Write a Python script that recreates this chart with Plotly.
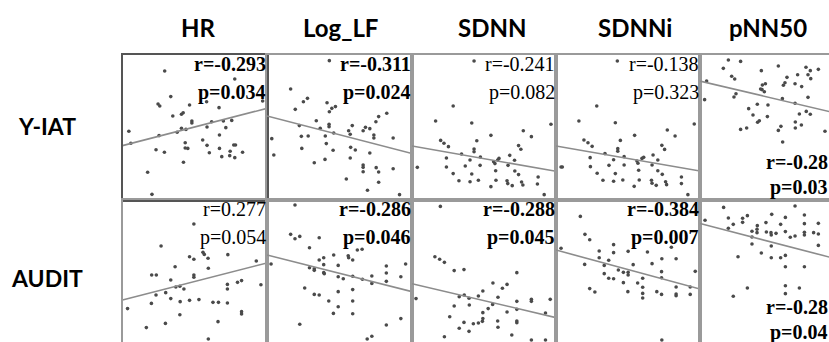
import plotly.graph_objects as go

# ---------------- data (normalised 0-100 units within each panel) ----------------
col_titles = ["HR", "Log_LF", "SDNN", "SDNNi", "pNN50"]
row_titles = ["Y-IAT", "AUDIT"]

hr_yiat_x = [29.2,77.7,58.2,33.4,24.6,25.8,46.4,66.8,97.0,34.8,40.8,42.0,48.0,48.0,61.7,69.8,75.6,4.4,40.8,43.9,37.8,58.5,71.5,25.3,5.8,67.1,43.4,55.5,58.5,77.0,78.2,23.2,29.0,43.4,45.2,67.1,60.1,74.5,83.1,68.7,74.2,77.7,42.2,17.4,20.4]
hr_yiat_y = [89.0,83.4,67.8,71.3,66.2,64.8,65.5,63.7,68.3,57.9,59.1,60.2,54.5,53.1,54.0,54.5,54.9,47.4,49.4,48.7,46.7,50.3,49.9,44.4,39.1,44.8,39.5,41.4,37.7,37.9,37.9,34.7,32.9,35.9,35.6,35.6,32.6,33.6,32.9,29.9,30.6,29.2,26.0,19.1,3.9]

loglf_yiat_x = [43.0,16.3,25.1,27.9,41.4,47.2,44.7,43.0,19.5,82.6,77.0,75.1,34.0,22.3,42.8,42.8,36.7,58.8,67.9,70.9,66.3,56.3,57.4,46.0,73.7,73.7,87.0,3.3,23.7,28.4,40.2,40.9,24.0,4.7,45.6,57.7,60.9,70.9,57.4,40.0,32.6,66.3,66.3,75.3,66.3,77.0,87.0,54.7,77.0,69.3,91.4]
loglf_yiat_y = [96.1,76.6,67.8,70.1,67.1,64.4,63.2,60.9,62.5,59.8,57.5,54.0,54.7,51.3,52.2,50.6,49.4,51.3,50.1,49.2,47.8,47.8,45.3,46.2,44.8,42.8,42.8,42.3,43.9,44.1,44.1,38.9,35.6,31.0,34.3,36.3,34.5,32.4,29.0,28.0,25.7,24.1,22.5,22.3,19.5,19.3,21.6,14.5,12.2,6.7,3.7]

sdnn_yiat_x = [43.1,28.6,16.4,41.5,96.5,77.3,54.8,82.9,45.0,19.9,22.2,25.3,74.0,75.6,43.1,43.1,34.4,67.9,23.9,47.5,40.3,60.4,59.5,71.2,56.7,57.6,3.7,23.9,37.0,47.3,66.7,58.1,71.4,28.6,41.5,74.0,87.6,32.6,40.3,46.1,58.3,66.0,66.5,69.6,76.1,77.0,87.1,54.8,91.8]
sdnn_yiat_y = [95.9,64.8,54.5,53.1,52.2,47.8,44.6,43.7,40.9,41.1,39.1,36.8,37.5,35.0,35.2,33.3,31.7,30.8,29.0,29.7,27.6,28.7,27.6,27.4,26.4,25.1,22.5,22.8,23.4,23.9,23.9,20.2,20.0,18.2,17.9,17.5,15.9,13.3,12.6,13.6,13.6,13.3,11.3,9.9,12.4,10.3,11.0,9.2,3.7]

sdnni_yiat_x = [42.6,28.3,15.9,41.2,96.0,77.3,54.6,82.7,44.7,19.4,22.2,25.1,73.5,75.4,42.9,42.9,34.0,67.4,23.7,47.3,40.0,59.7,60.9,70.7,56.2,56.9,3.5,4.4,23.9,36.8,47.3,66.7,57.4,70.7,28.6,41.2,73.8,87.1,32.6,40.0,46.4,57.8,66.3,66.7,69.6,76.1,76.8,87.1,54.3,91.6]
sdnni_yiat_y = [95.9,64.8,54.5,53.3,52.4,48.3,44.6,44.1,41.1,41.4,39.5,37.0,37.7,34.9,35.4,33.6,32.0,31.0,29.2,29.9,27.8,28.7,29.4,27.6,26.9,25.3,22.8,22.8,23.0,23.9,24.1,24.1,20.5,20.2,18.4,18.2,17.7,15.9,13.6,12.9,13.8,13.8,13.6,11.5,10.1,12.6,10.6,11.3,9.4,3.7]

pnn50_yiat_x = [19.7,28.2,16.2,54.4,73.6,76.6,82.2,42.6,67.8,75.0,60.4,22.0,24.1,76.9,4.6,59.0,45.4,66.0,57.9,43.3,70.6,42.1,43.1,44.7,25.0,23.6,3.2,75.0,57.2,66.0,39.8,47.2,33.8,73.8,69.0,76.6,36.8,46.8,41.2,40.0,66.2,70.4,56.2,32.4,66.2,28.2,54.4,86.8,57.4]
pnn50_yiat_y = [96.6,95.6,90.8,92.4,91.5,89.2,90.1,89.2,86.4,86.4,84.6,85.3,83.4,83.7,82.1,80.9,80.2,80.2,79.1,79.3,78.2,76.6,76.1,74.7,73.3,71.0,69.2,70.8,69.9,66.7,66.0,65.5,63.0,61.1,59.3,59.1,58.6,57.5,54.7,53.6,53.8,51.7,50.8,49.7,49.7,48.7,48.0,47.4,40.0]

hr_audit_x = [49.4,26.7,55.7,56.6,46.4,49.4,59.2,72.9,92.6,36.4,59.4,20.2,23.4,49.4,49.4,33.4,82.4,79.6,72.6,72.6,95.8,36.9,39.7,42.5,29.9,23.2,33.4,39.9,46.4,52.9,62.6,66.4,72.6,20.0,3.5,82.4,82.4,39.7,66.1,29.7,16.5,59.4]
hr_audit_y = [83.4,68.3,63.9,62.5,60.9,59.1,59.8,62.3,57.9,54.0,52.9,48.3,48.3,48.3,46.7,44.8,44.4,43.2,41.8,38.6,41.6,40.0,40.5,38.6,36.1,34.5,32.0,29.9,30.8,31.3,29.4,29.4,29.0,28.7,25.1,23.0,21.4,20.9,16.1,14.9,12.0,4.1]

loglf_audit_x = [19.3,16.3,19.3,22.6,36.0,29.3,62.3,65.6,46.0,56.0,56.3,39.1,36.0,59.1,39.1,2.8,95.6,49.1,82.3,29.3,32.6,32.6,39.1,39.5,82.3,49.1,52.6,59.1,72.3,92.3,65.8,72.3,82.3,26.0,59.1,49.1,32.6,36.0,42.6,59.1,49.1,45.8,59.1,92.3,22.6,82.3,72.3,69.1]
loglf_audit_y = [96.6,76.3,73.3,74.9,74.0,67.1,65.5,66.0,62.1,61.6,60.2,60.2,58.6,58.6,55.4,55.9,55.9,54.9,54.5,53.3,52.6,51.5,49.9,49.2,49.7,47.1,45.7,47.4,47.6,47.1,45.3,42.5,43.9,39.3,38.2,36.8,34.9,34.5,30.3,30.3,26.4,21.8,21.6,18.2,14.3,13.8,6.0,4.1]

sdnn_audit_x = [19.7,15.9,19.2,22.5,29.3,36.1,72.8,66.0,56.2,62.8,49.2,2.8,32.8,36.3,39.6,46.1,59.7,82.9,82.9,96.0,72.8,29.3,39.8,56.0,52.9,72.8,66.0,49.2,92.7,26.2,49.2,59.5,72.8,72.8,36.1,42.6,46.1,48.9,32.8,59.7,39.6,69.3,22.5,82.9,92.7]
sdnn_audit_y = [95.6,60.9,59.1,57.0,51.3,52.0,49.9,41.8,42.8,39.1,37.2,32.0,33.3,34.5,32.2,33.8,32.9,31.5,30.1,31.5,30.1,26.9,27.6,28.0,25.1,24.6,22.8,22.3,22.1,19.5,18.2,16.6,16.6,15.4,15.6,14.7,15.2,16.3,11.5,12.2,9.4,6.9,5.7,3.4,3.4]

sdnni_audit_x = [16.9,20.1,23.4,40.0,80.1,3.5,30.0,40.0,50.1,63.5,30.0,36.6,73.5,83.4,19.9,33.5,53.6,66.7,43.3,46.8,50.1,50.1,33.5,73.3,96.7,36.6,40.0,60.2,73.3,46.8,56.7,60.2,83.4,93.2,23.4,27.0,49.9,60.2,70.0,73.3,83.4,83.4,93.2,60.2,73.5]
sdnni_audit_y = [88.7,76.3,72.6,69.2,67.4,66.7,64.8,63.7,64.6,64.1,60.2,58.4,59.5,59.5,55.6,54.9,55.4,56.1,51.7,50.1,50.1,48.3,49.2,50.6,50.8,46.0,45.7,46.0,46.4,43.0,42.8,39.8,40.0,40.0,38.9,36.6,36.8,35.6,36.8,34.9,35.2,34.0,34.9,32.4,3.4]

pnn50_audit_x = [66.0,16.4,32.9,29.6,19.7,59.3,72.5,49.8,3.5,23.1,29.6,45.8,56.0,72.5,82.2,39.8,19.7,39.6,36.1,39.6,46.1,49.5,52.8,49.3,59.3,72.5,72.5,78.9,82.2,62.7,66.0,36.1,36.1,49.5,82.2,42.6,26.4,49.5,56.0,59.3,59.3,72.5,59.3,69.0,32.9,59.3,23.1]
pnn50_audit_y = [95.9,94.9,89.2,87.4,87.6,88.0,89.7,90.1,86.0,83.2,84.6,84.4,83.2,83.7,83.9,82.3,80.5,79.8,78.4,77.5,77.9,75.9,77.0,77.5,78.2,77.7,75.9,77.5,76.6,74.3,75.2,74.5,69.7,68.3,68.7,63.4,60.9,60.2,60.2,61.8,54.0,54.0,40.9,39.3,39.3,35.4,33.6]

# regression line values at x=0 and x=100
fit_start_yiat = [37.5, 57.9, 37.2, 37.2, 82.0]
fit_end_yiat   = [63.2, 32.0, 19.8, 20.0, 58.6]
fit_start_audit = [31.0, 62.1, 42.3, 65.5, 83.8]
fit_end_audit   = [56.6, 36.8, 18.9, 38.6, 58.0]

r_yiat = ["r=-0.293", "r=-0.311", "r=-0.241", "r=-0.138", "r=-0.28"]
p_yiat = ["p=0.034", "p=0.024", "p=0.082", "p=0.323", "p=0.03"]
sig_yiat = [True, True, False, False, True]
r_audit = ["r=0.277", "r=-0.286", "r=-0.288", "r=-0.384", "r=-0.28"]
p_audit = ["p=0.054", "p=0.046", "p=0.045", "p=0.007", "p=0.04"]
sig_audit = [False, True, True, True, True]

# ---------------- layout ----------------
W, H = 829, 342
col_edges = [122.5, 267, 412, 556, 700, 829]
row_edges = [(55, 200), (200, 342)]
PX_PER_UNIT_X = 1.44
PX_PER_UNIT_Y = 1.45


def fx(px):
    return px / W


def fy(py):
    return 1 - py / H


points = [
    [(hr_yiat_x, hr_yiat_y), (loglf_yiat_x, loglf_yiat_y), (sdnn_yiat_x, sdnn_yiat_y),
     (sdnni_yiat_x, sdnni_yiat_y), (pnn50_yiat_x, pnn50_yiat_y)],
    [(hr_audit_x, hr_audit_y), (loglf_audit_x, loglf_audit_y), (sdnn_audit_x, sdnn_audit_y),
     (sdnni_audit_x, sdnni_audit_y), (pnn50_audit_x, pnn50_audit_y)],
]
fits = [(fit_start_yiat, fit_end_yiat), (fit_start_audit, fit_end_audit)]
labels = [(r_yiat, p_yiat, sig_yiat), (r_audit, p_audit, sig_audit)]

fig = go.Figure()
annotations = []
layout_axes = {}

for r in range(2):
    for c in range(5):
        k = r * 5 + c
        ax = "" if k == 0 else str(k + 1)
        xs, ys = points[r][c]
        fig.add_trace(go.Scatter(
            x=xs, y=ys, mode="markers",
            marker=dict(size=3.6, color="#4a4a4a"),
            xaxis="x" + ax, yaxis="y" + ax, showlegend=False, hoverinfo="skip"))
        fig.add_trace(go.Scatter(
            x=[0, 100], y=[fits[r][0][c], fits[r][1][c]], mode="lines",
            line=dict(color="#8c8c8c", width=1.6),
            xaxis="x" + ax, yaxis="y" + ax, showlegend=False, hoverinfo="skip"))

        x0, x1 = col_edges[c], col_edges[c + 1]
        yt, yb = row_edges[r]
        xr = [0, 100] if c < 4 else [0, (x1 - x0) / PX_PER_UNIT_X]
        yr = [0, 100] if r == 0 else [100 - (yb - yt) / PX_PER_UNIT_Y, 100]
        dark = (r == 0 and c == 0)
        lc = "#555555" if dark else "#9a9a9a"
        lw = 2 if dark else 1.6
        layout_axes["xaxis" + ax] = dict(
            domain=[fx(x0), min(1, fx(x1))], range=xr, showgrid=False, zeroline=False,
            showticklabels=False, ticks="", showline=True, linecolor=lc, linewidth=lw,
            mirror=(r == 0), side="top" if r == 1 else "bottom",
            anchor="y" + ax, fixedrange=True)
        layout_axes["yaxis" + ax] = dict(
            domain=[max(0, fy(yb)), fy(yt)], range=yr, showgrid=False, zeroline=False,
            showticklabels=False, ticks="", showline=True, linecolor=lc, linewidth=lw,
            mirror=(c < 4), anchor="x" + ax, fixedrange=True)

        rl, pl, sg = labels[r]
        ry, py = (94, 74) if c < 4 else (26.5, 8.6)
        for txt, yy in ((rl[c], ry), (pl[c], py)):
            annotations.append(dict(
                text=("<b>%s</b>" % txt) if sg[c] else txt,
                xref="x" + ax + " domain", x=1, xanchor="right",
                yref="y" + ax, y=yy, yanchor="middle",
                showarrow=False, borderpad=0,
                font=dict(family="Liberation Serif", size=20, color="black")))

header_x = [198, 340, 492, 635, 768]
for c, t in enumerate(col_titles):
    annotations.append(dict(
        text=t, xref="paper", yref="paper", x=fx(header_x[c]), y=fy(27),
        xanchor="center", yanchor="middle", showarrow=False,
        font=dict(family="Lato", size=24, color="black", weight="bold")))

row_y = [126, 278]
for r, t in enumerate(row_titles):
    annotations.append(dict(
        text=t, xref="paper", yref="paper", x=fx(47), y=fy(row_y[r]),
        xanchor="center", yanchor="middle", showarrow=False,
        font=dict(family="Lato", size=23, color="black", weight="bold")))

fig.update_layout(
    width=W, height=H, margin=dict(l=0, r=0, t=0, b=0),
    paper_bgcolor="white", plot_bgcolor="white",
    annotations=annotations, **layout_axes)

fig.write_html(
    "out.html",
    config={"displayModeBar": False, "staticPlot": True},
    post_script="document.body.style.margin='0';document.body.style.overflow='hidden';"
                "document.documentElement.style.overflow='hidden';")
